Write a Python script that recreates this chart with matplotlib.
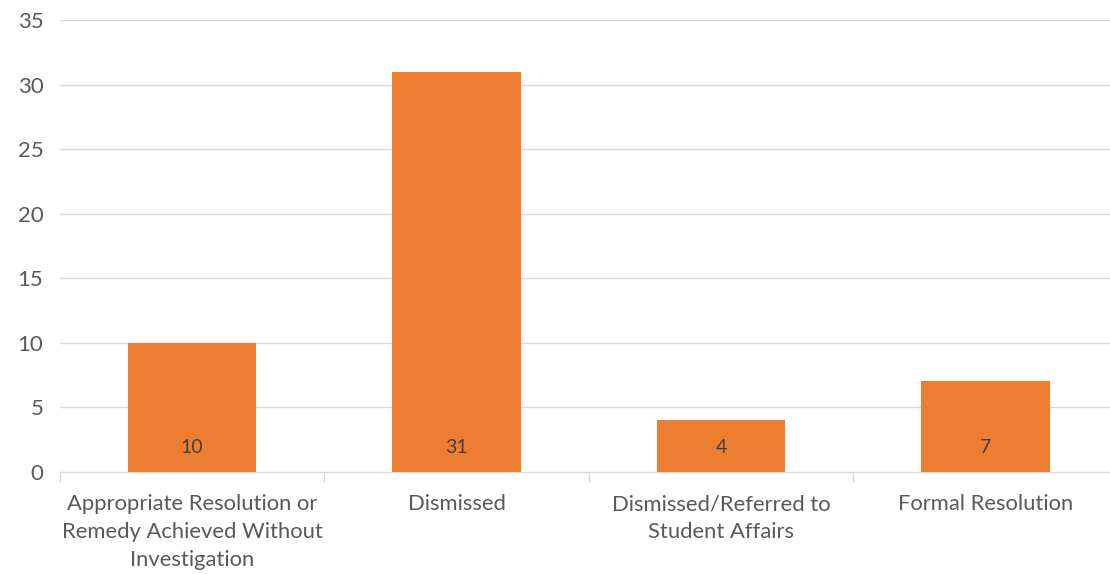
import matplotlib.pyplot as plt
import numpy as np

categories = ['Appropriate Resolution or\nRemedy Achieved Without\nInvestigation',
              'Dismissed',
              'Dismissed/Referred to\nStudent Affairs',
              'Formal Resolution']
counts = [10, 31, 4, 7]
y_ticks = [0, 5, 10, 15, 20, 25, 30, 35]

plt.rcParams['font.family'] = ['Lato', 'DejaVu Sans']

fig = plt.figure(figsize=(11.1, 5.74), dpi=100)
ax = fig.add_axes([0.054, 0.178, 0.953, 0.787])

x = np.arange(len(categories))
ax.bar(x, counts, width=0.485, color='#ED7D31', zorder=3)

for xi, v in zip(x, counts):
    ax.text(xi, 1.85, str(v), ha='center', va='center', fontsize=14, color='#404040', zorder=4)

ax.set_xlim(-0.5, len(categories) - 0.5)
ax.set_ylim(0, 35)
ax.set_yticks(y_ticks)
ax.yaxis.grid(True, color='#D9D9D9', linewidth=1, zorder=0)

ax.set_xticks(x)
ax.set_xticklabels(categories, fontsize=15.8, color='#595959', linespacing=1.5)
ax.tick_params(axis='x', which='major', length=0, pad=16)
ax.set_xticks(np.arange(-0.5, len(categories), 1), minor=True)
ax.tick_params(axis='x', which='minor', length=7, color='#D9D9D9', width=1)
ax.tick_params(axis='y', length=0, labelsize=16, labelcolor='#595959', pad=12)

for s in ['top', 'right', 'left']:
    ax.spines[s].set_visible(False)
ax.spines['bottom'].set_color('#D9D9D9')

fig.savefig('out.png', dpi=100)
